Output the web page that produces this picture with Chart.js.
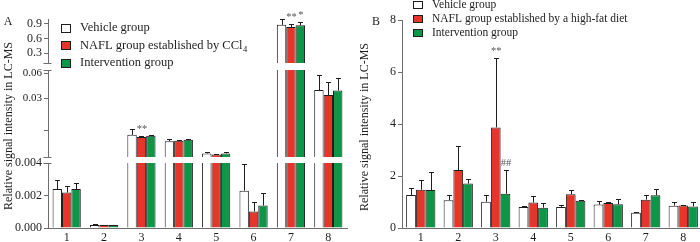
<!DOCTYPE html>
<html lang="en">
<head>
<meta charset="UTF-8">
<title>Relative signal intensity in LC-MS</title>
<style>
  html, body { margin: 0; padding: 0; background: #fff; overflow: hidden; }
  #wrap { position: relative; width: 700px; height: 242px; overflow: hidden; }
  canvas { position: absolute; top: 0; }
</style>
</head>
<body>
<div id="wrap">
  <canvas id="aTop" width="350" height="242" style="left:0"></canvas>
  <canvas id="aMid" width="350" height="242" style="left:0"></canvas>
  <canvas id="aBot" width="350" height="242" style="left:0"></canvas>
  <canvas id="bChart" width="352" height="242" style="left:350px"></canvas>
</div>

<script src="https://cdn.jsdelivr.net/npm/chart.js"></script>
<script>
// ---- data ----
const categories = ['1', '2', '3', '4', '5', '6', '7', '8'];
const seriesA = ['Vehicle group', 'NAFL group established by CCl4', 'Intervention group'];
const seriesB = ['Vehicle group', 'NAFL group established by a high-fat diet', 'Intervention group'];

// panel A (broken axis)
const aVehicle = [0.0024, 0.00018, 0.01075, 0.0090, 0.0064, 0.0023, 0.88, 0.0375];
const aNafl = [0.00218, 0.00018, 0.0101, 0.0091, 0.0062, 0.00102, 0.834, 0.0327];
const aInterv = [0.0024, 0.00019, 0.0105, 0.0094, 0.0064, 0.00138, 0.87, 0.037];
const aVehicleErr = [0.00056, 0.00004, 0.0019, 0.0005, 0.0002, 0.00166, 0.115, 0.019];
const aNaflErr = [0.0004, 0.00002, 0.0003, 0.0001, 0.0001, 0.0006, 0.066, 0.014];
const aIntervErr = [0.0004, 0.00002, 0.0002, 0.0002, 0.0002, 0.00077, 0.06, 0.016];

const aTopTicks = [0.3, 0.6, 0.9];
const aTopLabels = ['0.3', '0.6', '0.9'];
const aMidTicks = [0.012, 0.03, 0.06];
const aMidLabels = ['', '0.03', '0.06'];
const aBotTicks = [0, 0.002, 0.004];
const aBotLabels = ['0.000', '0.002', '0.004'];

// panel B
const bVehicle = [1.27, 1.07, 1.01, 0.81, 0.81, 0.90, 0.59, 0.86];
const bNafl = [1.47, 2.23, 3.87, 0.98, 1.30, 0.96, 1.09, 0.87];
const bInterv = [1.46, 1.71, 1.32, 0.78, 1.05, 0.91, 1.26, 0.83];
const bVehicleErr = [0.26, 0.21, 0.25, 0.03, 0.07, 0.12, 0.03, 0.14];
const bNaflErr = [0.39, 0.91, 2.67, 0.24, 0.18, 0.03, 0.17, 0.03];
const bIntervErr = [0.68, 0.17, 0.91, 0.20, 0.03, 0.22, 0.25, 0.16];
const bTicks = [0, 2, 4, 6, 8];
const bLabels = ['0', '2', '4', '6', '8'];

// significance marks: dataset, category index, text
const aTopMarks = [{ ds: 1, i: 6, text: '**' }, { ds: 2, i: 6, text: '*' }];
const aMidMarks = [{ ds: 1, i: 2, text: '**' }];
const bMarks = [{ ds: 1, i: 2, text: '**' }, { ds: 2, i: 2, text: '##' }];

const yTitle = 'Relative signal intensity in LC-MS';

// ---- style ----
const FONT = '"Liberation Serif", "Times New Roman", serif';
const AXIS = '#6e6e6e';
const INK = '#1e1e1e';
const barColors = ['#ffffff', '#e6352b', '#0d9648'];

Chart.defaults.font.family = FONT;
Chart.defaults.font.size = 12;
Chart.defaults.color = INK;

function makeDatasets(names, vals, errs, pct) {
  return vals.map((v, k) => ({
    label: names[k],
    data: v,
    errors: errs[k],
    backgroundColor: barColors[k],
    borderColor: INK,
    borderWidth: 1,
    borderSkipped: 'start',
    clip: 0,
    categoryPercentage: pct,
    barPercentage: 1
  }));
}

// error bars drawn on top of the bars, clipped to the segment
const errorBars = {
  id: 'errorBars',
  afterDatasetsDraw(chart) {
    const { ctx, chartArea: ca } = chart;
    const ys = chart.scales.y;
    ctx.save();
    ctx.beginPath();
    ctx.rect(ca.left, ca.top - 1.5, ca.right - ca.left, ca.bottom - ca.top + 1.5);
    ctx.clip();
    ctx.strokeStyle = INK;
    ctx.lineWidth = 1;
    chart.data.datasets.forEach((ds, di) => {
      chart.getDatasetMeta(di).data.forEach((bar, i) => {
        const v = ds.data[i];
        const top = ys.getPixelForValue(v + ds.errors[i]);
        const base = ys.getPixelForValue(v);
        const x = Math.round(bar.x) + 0.5;
        const yc = Math.round(top) + 0.5;
        ctx.beginPath();
        ctx.moveTo(x, base);
        ctx.lineTo(x, yc);
        ctx.moveTo(x - 2.5, yc);
        ctx.lineTo(x + 2.5, yc);
        ctx.stroke();
      });
    });
    ctx.restore();
  }
};

// legend, titles, axis break caps and significance marks
function decor(cfg) {
  return {
    id: 'decor',
    afterDraw(chart) {
      const ctx = chart.ctx;
      const ca = chart.chartArea;
      const ys = chart.scales.y;
      ctx.save();
      ctx.strokeStyle = AXIS;
      ctx.lineWidth = 1;
      (cfg.caps || []).forEach(side => {
        const y = Math.round(side === 'top' ? ca.top : ca.bottom) + 0.5;
        ctx.beginPath();
        ctx.moveTo(ca.left - 4.5, y);
        ctx.lineTo(ca.left + 3.5, y);
        ctx.stroke();
      });

      if (cfg.legend) {
        const L = cfg.legend;
        chart.data.datasets.forEach((ds, k) => {
          const cy = L.y + k * L.step;
          const top = Math.round(cy - L.h / 2);
          ctx.fillStyle = ds.backgroundColor;
          ctx.fillRect(L.x, top, L.w, L.h);
          ctx.strokeStyle = INK;
          ctx.strokeRect(L.x + 0.5, top + 0.5, L.w - 1, L.h - 1);
          ctx.fillStyle = INK;
          ctx.font = L.font;
          ctx.textAlign = 'left';
          ctx.textBaseline = 'middle';
          const m = ds.label.match(/^(.*CCl)(\d)$/);
          if (m) {
            ctx.fillText(m[1], L.tx, cy);
            const w = ctx.measureText(m[1]).width;
            ctx.font = L.subFont;
            ctx.fillText(m[2], L.tx + w + 0.5, cy + 4);
          } else {
            ctx.fillText(ds.label, L.tx, cy);
          }
        });
      }

      (cfg.texts || []).forEach(t => {
        ctx.save();
        ctx.font = t.font;
        ctx.fillStyle = INK;
        ctx.textAlign = 'center';
        ctx.textBaseline = 'middle';
        ctx.translate(t.x, t.y);
        if (t.rotate) ctx.rotate(t.rotate);
        ctx.fillText(t.text, 0, 0);
        ctx.restore();
      });

      (cfg.marks || []).forEach(mk => {
        const ds = chart.data.datasets[mk.ds];
        const bar = chart.getDatasetMeta(mk.ds).data[mk.i];
        const y = ys.getPixelForValue(ds.data[mk.i] + ds.errors[mk.i]) - 7;
        ctx.font = '10.5px ' + FONT;
        ctx.fillStyle = '#555';
        ctx.textAlign = 'center';
        ctx.textBaseline = 'middle';
        ctx.fillText(mk.text, bar.x + 0.5, y);
      });
      ctx.restore();
    }
  };
}

function yAxis(opts) {
  return Object.assign({
    afterFit: s => { s.width = opts.width; },
    afterBuildTicks: s => { s.ticks = opts.ticks.map(v => ({ value: v })); },
    ticks: {
      autoSkip: false,
      callback: (v, i) => opts.labels[i],
      font: { size: opts.fontSize || 12 },
      color: INK,
      padding: 2
    },
    grid: { drawOnChartArea: false, tickLength: 4, color: AXIS },
    border: { color: AXIS, width: 1 }
  }, opts.scale);
}

function xAxis(show) {
  return {
    display: show,
    afterFit: s => { if (show) s.height = 14; },
    ticks: { font: { size: 12 }, color: INK, padding: 3 },
    grid: { display: false, drawTicks: false },
    border: { display: true, color: AXIS, width: 1 }
  };
}

function makeChart(id, names, vals, errs, pct, padding, yOpts, showX, plugCfg) {
  return new Chart(document.getElementById(id), {
    type: 'bar',
    data: { labels: categories, datasets: makeDatasets(names, vals, errs, pct) },
    options: {
      responsive: false,
      animation: false,
      layout: { padding: padding },
      plugins: { legend: { display: false }, tooltip: { enabled: false } },
      scales: { x: xAxis(showX), y: yAxis(yOpts) }
    },
    plugins: [errorBars, decor(plugCfg)]
  });
}

const aVals = [aVehicle, aNafl, aInterv];
const aErrs = [aVehicleErr, aNaflErr, aIntervErr];

makeChart('aTop', seriesA, aVals, aErrs, 0.755,
  { left: 0, right: 3, top: 19, bottom: 179 },
  { width: 48, ticks: aTopTicks, labels: aTopLabels, scale: { type: 'linear', min: 0.1, max: 1.0 } },
  false,
  {
    caps: ['bottom'],
    marks: aTopMarks,
    legend: { x: 61, w: 10, h: 9, tx: 80, y: 28, step: 17.5,
      font: '12.5px ' + FONT, subFont: '8.5px ' + FONT },
    texts: [
      { text: 'A', x: 8, y: 22, font: '12px ' + FONT },
      { text: yTitle, x: 8.5, y: 126, rotate: -Math.PI / 2, font: '12px ' + FONT }
    ]
  });

makeChart('aMid', seriesA, aVals, aErrs, 0.755,
  { left: 0, right: 3, top: 70, bottom: 85 },
  { width: 48, ticks: aMidTicks, labels: aMidLabels, fontSize: 11,
    scale: { type: 'logarithmic', min: 0.0058, max: 0.0655 } },
  false,
  { caps: ['top', 'bottom'], marks: aMidMarks });

makeChart('aBot', seriesA, aVals, aErrs, 0.755,
  { left: 0, right: 3, top: 163, bottom: 0 },
  { width: 48, ticks: aBotTicks, labels: aBotLabels, scale: { type: 'linear', min: 0, max: 0.004 } },
  true,
  { caps: ['top'] });

makeChart('bChart', seriesB, [bVehicle, bNafl, bInterv], [bVehicleErr, bNaflErr, bIntervErr], 0.78,
  { left: 0, right: 0, top: 20, bottom: 0 },
  { width: 52, ticks: bTicks, labels: bLabels, scale: { type: 'linear', min: 0, max: 8 } },
  true,
  {
    marks: bMarks,
    legend: { x: 63, w: 10, h: 8, tx: 82, y: 5, step: 14,
      font: '11.5px ' + FONT, subFont: '8px ' + FONT },
    texts: [
      { text: 'B', x: 26, y: 22, font: '12px ' + FONT },
      { text: yTitle, x: 15, y: 127, rotate: -Math.PI / 2, font: '12px ' + FONT }
    ]
  });
</script>
</body>
</html>
